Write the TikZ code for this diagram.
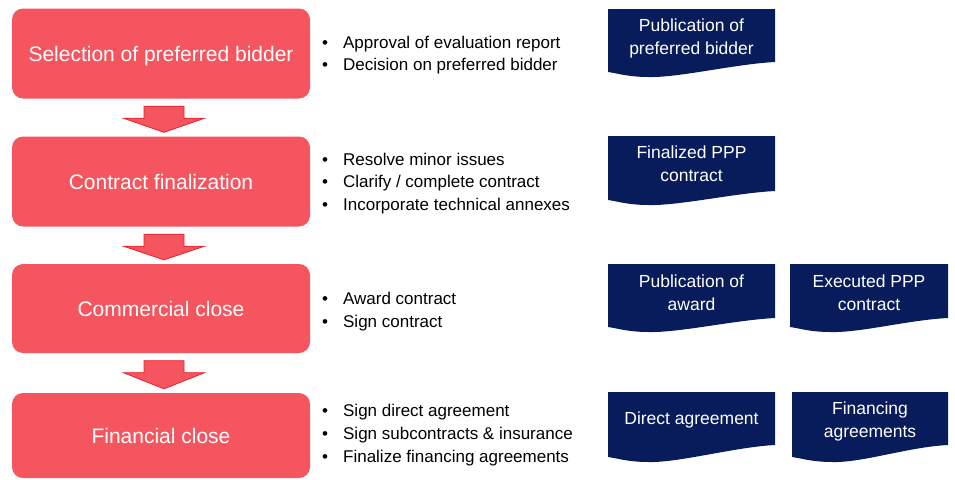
\documentclass[tikz,border=0pt]{standalone}
\usepackage{fontspec}
\setmainfont{Liberation Sans}
\usetikzlibrary{calc}
\definecolor{stepred}{RGB}{245,85,95}
\definecolor{arrowline}{RGB}{235,30,40}
\definecolor{docblue}{RGB}{8,28,92}
\tikzset{
  stepbox/.style={fill=stepred, rounded corners=11pt, minimum width=298pt, minimum height=#1, inner sep=0pt,
    text=white, text depth=0pt, font=\fontsize{21}{24}\selectfont},
  stepbox/.default=90pt,
  bulletlist/.style={anchor=north west, inner sep=0pt, align=left, text=black,
    font=\fontsize{17}{22.5}\selectfont},
  doctext/.style={text=white, align=center, inner sep=0pt, font=\fontsize{17.5}{23}\selectfont},
  blockarrow/.style={fill=stepred, draw=arrowline, line width=0.8pt, line join=miter},
}
\newcommand\bl{•\hspace{15pt}}
\newcommand\docshape[5]{% x1, top, x2, bottom-left, bottom-right
  \fill[docblue] (#1,#2) -- (#3,#2) -- (#3,#5)
    .. controls ({#3-40},{#5+2}) and ({#1+70},{#4+6}) .. ({#1+40},{#4+5})
    .. controls ({#1+20},{#4+5}) and ({#1+8},{#4+1}) .. (#1,#4) -- cycle;}
\newcommand\stepconnector[2]{% from node #1 to node #2
  \path ($(#1.south)+(3pt,0)$) coordinate (ta) ($(#2.north)+(3pt,0)$) coordinate (tb);
  \draw[blockarrow] ($(ta)+(-20pt,-7.5pt)$) -- ($(ta)+(20pt,-7.5pt)$) -- ($(ta)+(20pt,-19.5pt)$)
    -- ($(ta)+(40.5pt,-19.5pt)$) -- ($(tb)+(0,4pt)$) -- ($(ta)+(-40.5pt,-19.5pt)$)
    -- ($(ta)+(-20pt,-19.5pt)$) -- cycle;}
\begin{document}
\begin{tikzpicture}[x=1pt,y=-1pt]
\useasboundingbox (0,0) rectangle (955,479);
% step boxes
\node[stepbox] (s1) at (161,53.5) {Selection of preferred bidder};
\node[stepbox] (s2) at (161,181.5) {Contract finalization};
\node[stepbox=89pt] (s3) at (161,308.5) {Commercial close};
\node[stepbox=85pt] (s4) at (161,435.5) {Financial close};
% block arrows
\stepconnector{s1}{s2}
\stepconnector{s2}{s3}
\stepconnector{s3}{s4}
% bullet lists
\node[bulletlist] (b1) at (322,35.6) {\bl Approval of evaluation report\\\bl Decision on preferred bidder};
\node[bulletlist] (b2) at (322,152.6) {\bl Resolve minor issues\\\bl Clarify / complete contract\\\bl Incorporate technical annexes};
\node[bulletlist] (b3) at (322,292) {\bl Award contract\\\bl Sign contract};
\node[bulletlist,font=\fontsize{17}{23}\selectfont] (b4) at (322,403.6) {\bl Sign direct agreement\\\bl Sign subcontracts \& insurance\\\bl Finalize financing agreements};
% document shapes
\docshape{608}{9}{775}{72}{62}
\node[doctext] (d1) at (691.5,38) {Publication of\\preferred bidder};
\docshape{608}{136}{775}{200}{191}
\node[doctext] (d2) at (691.5,164) {Finalized PPP\\contract};
\docshape{608}{264}{775}{327}{318}
\node[doctext] (d3) at (691.5,293) {Publication of\\award};
\docshape{790}{264}{948}{327}{318}
\node[doctext] (d4) at (869,293) {Executed PPP\\contract};
\docshape{608}{392}{775}{457}{445}
\node[doctext] (d5) at (691.5,420) {Direct agreement};
\docshape{792}{392}{948}{457}{445}
\node[doctext] (d6) at (870,421) {Financing\\agreements};
\end{tikzpicture}
\end{document}
